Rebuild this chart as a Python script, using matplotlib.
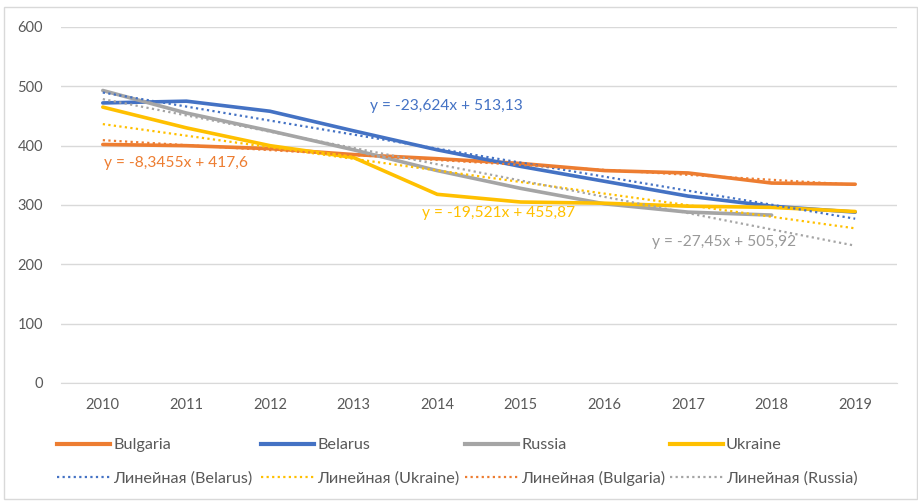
import numpy as np
import matplotlib
matplotlib.use('Agg')
import matplotlib.pyplot as plt
import matplotlib.patches as mpatches
from matplotlib.lines import Line2D

plt.rcParams['font.family'] = ['Lato', 'Noto Sans', 'DejaVu Sans']

years = ['2010', '2011', '2012', '2013', '2014', '2015', '2016', '2017', '2018', '2019']
bulgaria = [402, 400, 395, 385, 378, 370, 358, 354, 337, 335]
belarus = [472, 475, 458, 425, 393, 365, 340, 315, 298, 288]
russia = [493, 455, 425, 393, 358, 328, 302, 288, 283]
ukraine = [465, 430, 400, 380, 318, 305, 303, 298, 296, 289]

# linear trend coefficients (slope, intercept) as shown on the chart
trend_bulgaria = (-8.3455, 417.6)
trend_belarus = (-23.624, 513.13)
trend_russia = (-27.45, 505.92)
trend_ukraine = (-19.521, 455.87)

c_bul = '#ED7D31'
c_bel = '#4472C4'
c_rus = '#A5A5A5'
c_ukr = '#FFC000'

W, H = 918, 501
fig = plt.figure(figsize=(W / 100, H / 100), dpi=100)
ax = fig.add_axes([61 / W, (H - 383) / H, 836 / W, 356 / H])

x = np.arange(len(years))
lw = 2.6
ax.plot(x[:len(bulgaria)], bulgaria, color=c_bul, lw=lw, solid_capstyle='round', solid_joinstyle='round')
ax.plot(x[:len(belarus)], belarus, color=c_bel, lw=lw, solid_capstyle='round', solid_joinstyle='round')
ax.plot(x[:len(russia)], russia, color=c_rus, lw=lw, solid_capstyle='round', solid_joinstyle='round')
ax.plot(x[:len(ukraine)], ukraine, color=c_ukr, lw=lw, solid_capstyle='round', solid_joinstyle='round')

dot = (0, (1, 1.5))
tx = x + 1
for (a, b), c in [(trend_belarus, c_bel), (trend_ukraine, c_ukr),
                  (trend_bulgaria, c_bul), (trend_russia, c_rus)]:
    ax.plot(x, a * tx + b, color=c, lw=1.6, linestyle=dot, dash_capstyle='butt')

fs = 10.5
fl = 11.2
ax.text(3.2, 467, 'y = -23,624x + 513,13', color=c_bel, fontsize=fl, va='center')
ax.text(0.01, 371, 'y = -8,3455x + 417,6', color=c_bul, fontsize=fl, va='center')
ax.text(3.82, 287, 'y = -19,521x + 455,87', color=c_ukr, fontsize=fl, va='center')
ax.text(6.57, 238, 'y = -27,45x + 505,92', color='#999999', fontsize=fl, va='center')

ax.set_xlim(-0.5, 9.5)
ax.set_ylim(0, 600)
ax.set_xticks(x)
ax.set_xticklabels(years)
ax.set_yticks(range(0, 601, 100))
ax.tick_params(length=0, labelsize=fs, colors='#595959')
ax.tick_params(axis='y', pad=13)
ax.tick_params(axis='x', pad=11)
ax.grid(axis='y', color='#d9d9d9', lw=1)
ax.set_axisbelow(True)
for s in ['top', 'right', 'left']:
    ax.spines[s].set_visible(False)
ax.spines['bottom'].set_color('#d9d9d9')

# legend: four columns, two rows
cols = [
    [(c_bul, '-', 'Bulgaria'), (c_bel, dot, 'Линейная (Belarus)')],
    [(c_bel, '-', 'Belarus'), (c_ukr, dot, 'Линейная (Ukraine)')],
    [(c_rus, '-', 'Russia'), (c_bul, dot, 'Линейная (Bulgaria)')],
    [(c_ukr, '-', 'Ukraine'), (c_rus, dot, 'Линейная (Russia)')],
]
fleg = 11.7
col_x = [57, 261, 465, 670]
for cx, entries in zip(col_x, cols):
    handles = []
    for c, ls, lab in entries:
        if ls == '-':
            handles.append(Line2D([], [], color=c, lw=3, label=lab))
        else:
            handles.append(Line2D([], [], color=c, lw=1.6, linestyle=ls,
                                  dash_capstyle='butt', label=lab))
    fig.legend(handles=handles, loc='upper left', bbox_to_anchor=(cx / W, (H - 438) / H),
               frameon=False, fontsize=fleg, handlelength=3.25, handletextpad=0.2,
               labelspacing=1.15, borderpad=0, borderaxespad=0, labelcolor='#595959')

fig.patches.append(mpatches.Rectangle((4 / W, 2 / H), 913 / W, 492 / H, transform=fig.transFigure,
                                      fill=False, edgecolor='#d9d9d9', lw=1))

fig.savefig('out.png', dpi=100)
